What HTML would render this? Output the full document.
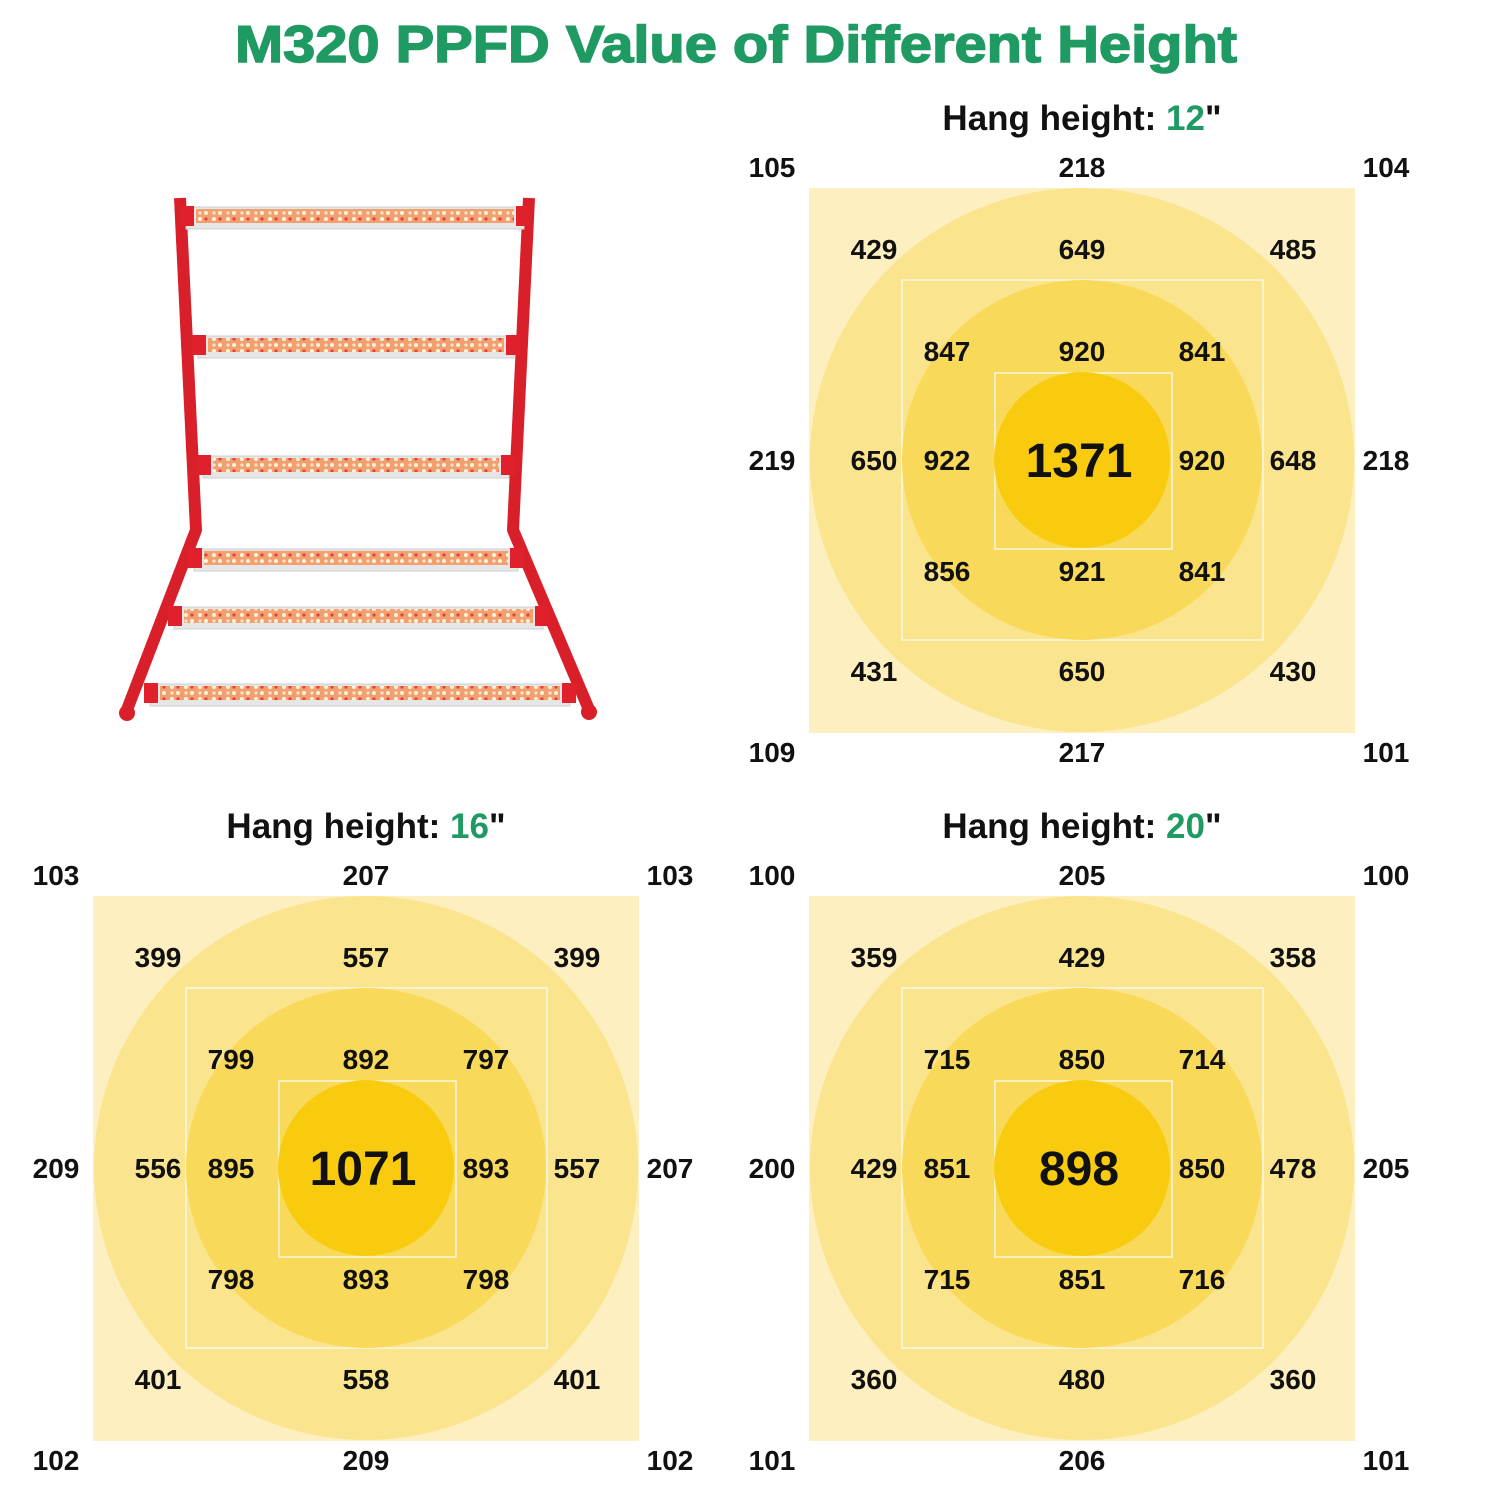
<!DOCTYPE html>
<html><head><meta charset="utf-8"><style>
html,body{margin:0;padding:0;background:#fff;}
svg{display:block;}
text{font-family:"Liberation Sans",Arial,sans-serif;font-weight:bold;}
</style></head><body>
<svg id="s" width="1500" height="1500" viewBox="0 0 1500 1500" xmlns="http://www.w3.org/2000/svg">
<defs>
<pattern id="led" width="14" height="12" patternUnits="userSpaceOnUse">
<rect width="14" height="12" fill="#f2a070"/>
<circle cx="4" cy="3" r="2" fill="#fff3dd"/><circle cx="10" cy="9" r="2" fill="#fff3dd"/>
<circle cx="10" cy="3" r="1.6" fill="#e8403a"/><circle cx="4" cy="9" r="1.6" fill="#ffe6c8"/>
</pattern>
</defs>
<text x="235" y="62" font-size="52" fill="#1f9a63" stroke="#1f9a63" stroke-width="1.5" textLength="1002" lengthAdjust="spacingAndGlyphs">M320 PPFD Value of Different Height</text>
<g id="lamp">
<polyline points="180,198 196,530 125,715" fill="none" stroke="#d9202a" stroke-width="12" stroke-linejoin="round"/>
<polyline points="529,198 513,530 590,712" fill="none" stroke="#d9202a" stroke-width="12" stroke-linejoin="round"/>
</g>
<g id="panels"></g>
</svg>
<script>
var s=document.getElementById('s'),NS='http://www.w3.org/2000/svg';
function el(t,a,txt,parent){var e=document.createElementNS(NS,t);for(var k in a)e.setAttribute(k,a[k]);if(txt!=null)e.textContent=txt;(parent||s).appendChild(e);return e;}
var lamp=document.getElementById('lamp');
[[186,524,217],[198,514,346],[203,509,466],[194,518,559],[174,543,617],[150,570,694]].forEach(function(b){
 el('rect',{x:b[0],y:b[2]-10,width:b[1]-b[0],height:22,fill:'#e6e6e6',stroke:'#cfcfcf','stroke-width':1},null,lamp);
 el('rect',{x:b[0]+10,y:b[2]-8,width:b[1]-b[0]-20,height:14,fill:'url(#led)'},null,lamp);
 el('rect',{x:b[0]-6,y:b[2]-11,width:14,height:20,fill:'#e0202a'},null,lamp);
 el('rect',{x:b[1]-8,y:b[2]-11,width:14,height:20,fill:'#e0202a'},null,lamp);
});
el('circle',{cx:127,cy:713,r:8,fill:'#d9202a'},null,lamp);
el('circle',{cx:589,cy:712,r:8,fill:'#d9202a'},null,lamp);
var P=document.getElementById('panels');
var dxs=[-310,-208,-135,0,120,211,304],dys=[-293,-211,-109,0,111,211,292];
function panel(cx,cy,h,v,big){
 el('text',{x:cx,y:cy-330,'text-anchor':'middle','font-size':35,fill:'#111'},null,P).innerHTML='Hang height: <tspan fill="#1f9a63">'+h+'</tspan>"';
 el('rect',{x:cx-273,y:cy-272,width:546,height:545,fill:'#fdefbf'},null,P);
 el('circle',{cx:cx,cy:cy,r:272,fill:'#fbe48e'},null,P);
 el('rect',{x:cx-180,y:cy-180,width:361,height:360,fill:'none',stroke:'#fff8e0','stroke-width':1.5},null,P);
 el('circle',{cx:cx,cy:cy,r:180,fill:'#f9d95a'},null,P);
 el('rect',{x:cx-87,y:cy-87,width:177,height:176,fill:'none',stroke:'#fff8e0','stroke-width':1.5},null,P);
 el('circle',{cx:cx,cy:cy,r:88,fill:'#f8cb0e'},null,P);
 v.forEach(function(t){el('text',{x:cx+dxs[t[0]],y:cy+dys[t[1]]+10,'text-anchor':'middle','font-size':28,fill:'#111'},t[2],P);});
 el('text',{x:cx-3,y:cy+17,'text-anchor':'middle','font-size':48,fill:'#111'},big,P);
}
function grid(a){
 var o=a[0],m=a[1],i=a[2];
 return [[0,0,o[0]],[3,0,o[1]],[6,0,o[2]],[0,3,o[3]],[6,3,o[4]],[0,6,o[5]],[3,6,o[6]],[6,6,o[7]],
 [1,1,m[0]],[3,1,m[1]],[5,1,m[2]],[1,3,m[3]],[5,3,m[4]],[1,5,m[5]],[3,5,m[6]],[5,5,m[7]],
 [2,2,i[0]],[3,2,i[1]],[4,2,i[2]],[2,3,i[3]],[4,3,i[4]],[2,4,i[5]],[3,4,i[6]],[4,4,i[7]]];
}
panel(1082,460,'12',grid([[105,218,104,219,218,109,217,101],[429,649,485,650,648,431,650,430],[847,920,841,922,920,856,921,841]]),'1371');
panel(366,1168,'16',grid([[103,207,103,209,207,102,209,102],[399,557,399,556,557,401,558,401],[799,892,797,895,893,798,893,798]]),'1071');
panel(1082,1168,'20',grid([[100,205,100,200,205,101,206,101],[359,429,358,429,478,360,480,360],[715,850,714,851,850,715,851,716]]),'898');
</script>
</body></html>
